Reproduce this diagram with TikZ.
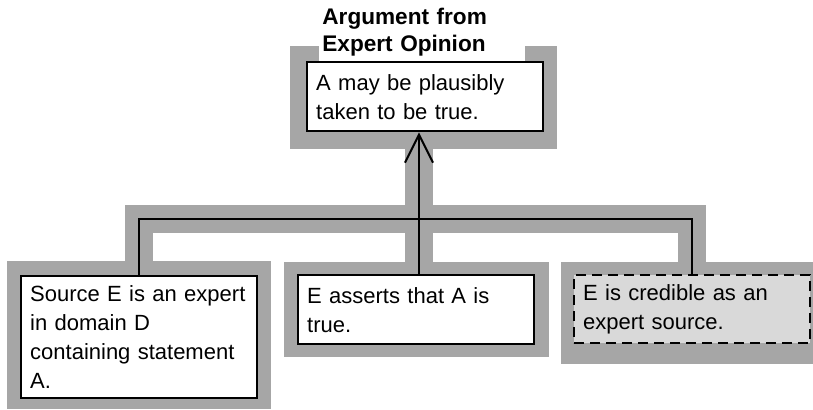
\documentclass[tikz,border=0pt]{standalone}
\usepackage{fontspec}
\setmainfont{Liberation Sans}
\usetikzlibrary{arrows.meta,positioning,backgrounds}

\definecolor{framegray}{gray}{0.65}
\definecolor{notegray}{gray}{0.85}
\hyphenpenalty=10000

\begin{document}
\begin{tikzpicture}[x=0.5pt, y=-0.5pt, every node/.style={font=\fontsize{11}{14.5}\selectfont},
    premise/.style={draw, line width=1.2pt, fill=white, anchor=north west, align=left,
        text width=109pt, inner xsep=4.5pt, inner ysep=0pt},
    title/.style={font=\bfseries\fontsize{11.3}{13.5}\selectfont, fill=white, anchor=south west,
        align=left, text width=100pt, inner xsep=1.5pt, inner ysep=2.2pt},
    band/.style={draw=framegray, line width=14pt},
    link/.style={draw=black, line width=1pt}]
    \useasboundingbox (0,0) rectangle (813,409);

    % Conclusion with its scheme name
    \node[title] (ttl) at (319,61) {Argument from\\Expert Opinion};
    \node[premise, minimum height=34.5pt] (concl) at (306,61) {A may be plausibly\\taken to be true.};

    % Premises (left to right)
    \node[premise, minimum height=61pt] (expert) at (20,275) {Source E is an expert\\in domain D\\containing statement\\A.};
    \node[premise, minimum height=34.5pt] (assert) at (297,274) {E asserts that A is\\true.};
    \node[premise, minimum height=34pt, fill=notegray, dash pattern=on 5pt off 3pt] (cred) at (573,274) {E is credible as an\\expert source.};

    % junction of the premise lines
    \coordinate (hub) at (419,219);

    % grey frames and band behind everything
    \begin{scope}[on background layer]
        \fill[framegray] ([shift={(-16,-15)}]concl.north west) rectangle ([shift={(13,17)}]concl.south east);
        \fill[framegray] ([shift={(-13,-14)}]expert.north west) rectangle ([shift={(13,10)}]expert.south east);
        \fill[framegray] ([shift={(-13,-12)}]assert.north west) rectangle ([shift={(14,12)}]assert.south east);
        \fill[framegray] ([shift={(-12,-12)}]cred.north west) rectangle ([shift={(20,20)}]cred.south east);
        \draw[band] (expert.north) |- (hub) -| (cred.north);
        \draw[band] (hub |- concl.south) -- (hub |- assert.north);
    \end{scope}

    % Links
    \draw[link] (expert.north) |- (hub) -| (cred.north);
    \draw[link] (hub) -- (hub |- assert.north);
    \draw[link, -{Straight Barb[length=14pt, width=14pt]}] (hub) -- (hub |- concl.south);
\end{tikzpicture}
\end{document}
